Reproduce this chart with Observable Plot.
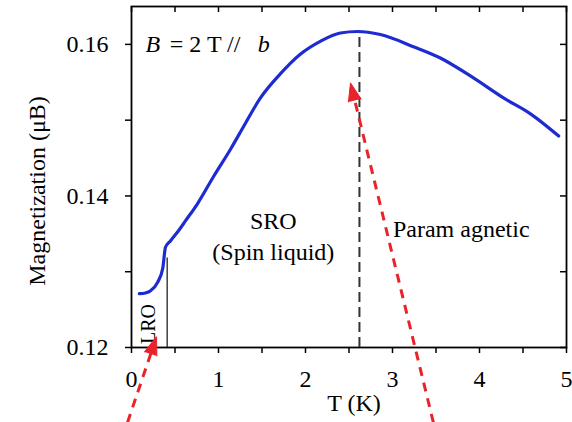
<!DOCTYPE html>
<html><head><meta charset="utf-8">
<script src="https://cdn.jsdelivr.net/npm/d3@7"></script>
<script src="https://cdn.jsdelivr.net/npm/@observablehq/plot@0.6"></script>
<style>body{margin:0;background:#fff}</style>
</head><body><div id="chart"></div>
<script>
// Magnetization curve, B = 2 T // b
const temperature   = [0.09, 0.16, 0.22, 0.30, 0.36, 0.39, 0.45, 0.54, 0.62, 0.76, 0.94, 1.14, 1.31, 1.48, 1.71, 1.94, 2.17, 2.40, 2.60, 2.86, 3.24, 3.55, 3.90, 4.28, 4.59, 4.91];
const magnetization = [0.1271, 0.1272, 0.1275, 0.1286, 0.1305, 0.1332, 0.1341, 0.1354, 0.1367, 0.1390, 0.1425, 0.1462, 0.1496, 0.1529, 0.1561, 0.1587, 0.1604, 0.1615, 0.1617, 0.1613, 0.1597, 0.1582, 0.1558, 0.1529, 0.1508, 0.1479];

const xTicks = [0, 0.5, 1, 1.5, 2, 2.5, 3, 3.5, 4, 4.5, 5];
const xTickLabels = ["0", "", "1", "", "2", "", "3", "", "4", "", "5"];
const yTicks = [0.12, 0.13, 0.14, 0.15, 0.16];
const yTickLabels = ["0.12", "", "0.14", "", "0.16"];

// phase boundaries
const lroBoundaryT = [0.41], lroBoundaryM = [0.1318];
const peakT = [2.62], peakM = [0.1617];

// red arrows (start below the axis, pointing up)
const arrowStartT = [-0.046, 3.47];
const arrowStartM = [0.1101, 0.1101];
const arrowEndT = [0.287, 2.517];
const arrowEndM = [0.1214, 0.1549];
const arrowAngle = [18.6, -13.7];

// region labels
const regionText = ["SRO", "(Spin liquid)", "Param agnetic"];
const regionT = [1.63, 1.63, 3.79];
const regionM = [0.1366, 0.1325, 0.1356];

const curve = temperature.map((t, i) => ({t, m: magnetization[i]}));
const arrows = arrowStartT.map((_, i) => ({x1: arrowStartT[i], y1: arrowStartM[i], x2: arrowEndT[i], y2: arrowEndM[i], a: arrowAngle[i]}));
const regions = regionText.map((s, i) => ({s, t: regionT[i], m: regionM[i]}));

const red = "#e8232a";
const blue = "#1f2bd2";
const serif = "'Liberation Serif', 'Times New Roman', serif";

const chart = Plot.plot({
  width: 572, height: 422,
  marginLeft: 131, marginRight: 6, marginTop: 6, marginBottom: 75,
  x: {domain: [0, 5]},
  y: {domain: [0.12, 0.165]},
  style: {fontFamily: serif, background: "white", color: "black"},
  marks: [
    Plot.axisX({ticks: xTicks, tickSize: 6, tickPadding: 16, fontSize: 24, fontFamily: serif, strokeWidth: 1.5,
      tickFormat: d => xTickLabels[xTicks.indexOf(d)], label: null}),
    Plot.axisY({ticks: yTicks, tickSize: 6, tickPadding: 17, fontSize: 24, fontFamily: serif, strokeWidth: 1.5,
      tickFormat: d => yTickLabels[yTicks.indexOf(d)], label: null}),
    Plot.ruleX(xTicks, {insetBottom: 335, strokeWidth: 1.5}),
    Plot.ruleY(yTicks, {insetLeft: 429, strokeWidth: 1.5}),
    Plot.frame({strokeWidth: 1.8}),
    Plot.ruleX(lroBoundaryT, {x: d => d, y1: 0.12, y2: (d, i) => lroBoundaryM[i], stroke: "#222", strokeWidth: 1.3}),
    Plot.ruleX(peakT, {x: d => d, y1: 0.12, y2: (d, i) => peakM[i], stroke: "#333", strokeWidth: 2, strokeDasharray: "10,5"}),
    Plot.line(curve, {x: "t", y: "m", stroke: blue, strokeWidth: 3.2, curve: "monotone-x"}),
    Plot.text(["B"], {x: [0.16], y: [0.1600], fontSize: 24, fontFamily: serif, fontStyle: "italic", textAnchor: "start"}),
    Plot.text(["= 2 T //"], {x: [0.44], y: [0.1600], fontSize: 24, fontFamily: serif, textAnchor: "start"}),
    Plot.text(["b"], {x: [1.45], y: [0.1600], fontSize: 24, fontFamily: serif, fontStyle: "italic", textAnchor: "start"}),
    Plot.text(regions, {x: "t", y: "m", text: "s", fontSize: 24, fontFamily: serif}),
    Plot.text(["LRO"], {x: [0.195], y: [0.1231], rotate: -90, fontSize: 20, fontFamily: serif}),
    Plot.text(["T (K)"], {frameAnchor: "bottom", textAnchor: "middle", lineAnchor: "middle", dx: 5, dy: 56, fontSize: 24, fontFamily: serif}),
    Plot.text(["Magnetization (μB)"], {frameAnchor: "left", textAnchor: "middle", lineAnchor: "middle", rotate: -90, dx: -94, dy: 14, fontSize: 24, fontFamily: serif}),
    Plot.link(arrows, {x1: "x1", y1: "y1", x2: "x2", y2: "y2", stroke: red, strokeWidth: 3, strokeDasharray: "9,7"}),
    Plot.vector(arrows, {x: "x2", y: "y2", rotate: "a", length: 18, r: 6.5, shape: "spike", anchor: "end", fill: red, stroke: red, strokeWidth: 1})
  ]
});
document.getElementById("chart").append(chart);
</script>
</body></html>
